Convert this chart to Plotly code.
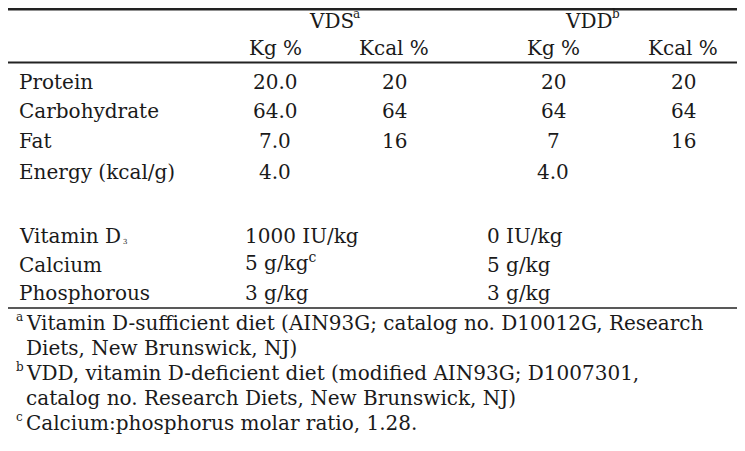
import plotly.graph_objects as go

# ---- data ----
group_labels = ["VDS", "VDD"]
group_marks = ["a", "b"]
sub_headers = ["Kg %", "Kcal %", "Kg %", "Kcal %"]
nutrient_rows = ["Protein", "Carbohydrate", "Fat", "Energy (kcal/g)"]
vds_kg = ["20.0", "64.0", "7.0", "4.0"]
vds_kcal = ["20", "64", "16", ""]
vdd_kg = ["20", "64", "7", "4.0"]
vdd_kcal = ["20", "64", "16", ""]
mineral_rows = ["Vitamin D", "Calcium", "Phosphorous"]
mineral_subscripts = ["3", "", ""]
vds_minerals = ["1000 IU/kg", "5 g/kg<sup>c</sup>", "3 g/kg"]
vdd_minerals = ["0 IU/kg", "5 g/kg", "3 g/kg"]
footnote_marks = ["a", "", "b", "", "c"]
footnote_lines = [
    "Vitamin D-sufficient diet (AIN93G; catalog no. D10012G, Research",
    "Diets, New Brunswick, NJ)",
    "VDD, vitamin D-deficient diet (modified AIN93G; D1007301,",
    "catalog no. Research Diets, New Brunswick, NJ)",
    "Calcium:phosphorus molar ratio, 1.28.",
]

# ---- layout (pixel geometry, in window pixels) ----
W, H = 745, 451
BODY = 8  # default page margin of the html body
FONT = "DejaVu Serif"
FS = 20
TXT = "#1a1a1a"
LINE = "#222222"
label_x = 17
col_x = [275, 394, 553, 683]
group_x = [336, 594]
group_mark_dx = [15, 16]
min_x = [243, 485]
header_base = [28, 55]
row_base = [89, 118, 148, 179]
min_base = [243, 272, 300]
mark_x = 14
foot_x = 24
foot_base = [330, 355, 380, 405, 430]
OFF = 7  # baseline -> visual middle

ann = []

def add(text, x, base, anchor="center", dy=0, size=FS):
    ann.append(dict(text=text, x=x, y=base - OFF + dy, xref="x", yref="y",
                    xanchor=anchor, yanchor="middle", showarrow=False,
                    font=dict(family=FONT, size=size, color=TXT)))

for g, m, x, mdx in zip(group_labels, group_marks, group_x, group_mark_dx):
    add(g, x - 5, header_base[0])
    add(m, x + mdx, header_base[0], anchor="left", dy=-7, size=12)
for s, x in zip(sub_headers, col_x):
    add(s, x, header_base[1])

for i, lab in enumerate(nutrient_rows):
    add(lab, label_x, row_base[i], anchor="left")
    for col, x in zip([vds_kg, vds_kcal, vdd_kg, vdd_kcal], col_x):
        if col[i]:
            add(col[i], x, row_base[i])

for i, lab in enumerate(mineral_rows):
    add(lab, label_x, min_base[i], anchor="left")
    if mineral_subscripts[i]:
        add(mineral_subscripts[i], label_x + 104, min_base[i], anchor="left", dy=6, size=7)
    add(vds_minerals[i], min_x[0], min_base[i], anchor="left",
        dy=-3 if "<sup>" in vds_minerals[i] else 0)
    add(vdd_minerals[i], min_x[1], min_base[i], anchor="left")

for m, t, b in zip(footnote_marks, footnote_lines, foot_base):
    if m:
        add(m, mark_x, b, anchor="left", dy=-6, size=12)
    add(t, foot_x, b, anchor="left")

shapes = [
    dict(type="line", x0=0, x1=W, y0=9.3, y1=9.3, xref="x", yref="y",
         line=dict(color=LINE, width=2.5)),
    dict(type="line", x0=0, x1=W, y0=62.5, y1=62.5, xref="x", yref="y",
         line=dict(color=LINE, width=2)),
    dict(type="line", x0=0, x1=W, y0=308, y1=308, xref="x", yref="y",
         line=dict(color=LINE, width=1.5)),
]

fig = go.Figure()
fig.add_trace(go.Scatter(x=[BODY, W], y=[BODY, H], mode="markers",
                         marker=dict(opacity=0), hoverinfo="skip", showlegend=False))
fig.update_layout(
    width=W - BODY, height=H - BODY, margin=dict(l=0, r=0, t=0, b=0),
    paper_bgcolor="white", plot_bgcolor="white",
    xaxis=dict(range=[BODY, W], visible=False, fixedrange=True),
    yaxis=dict(range=[H, BODY], visible=False, fixedrange=True),
    annotations=ann, shapes=shapes, showlegend=False,
)
fig.write_html("out.html", config={"displayModeBar": False})
